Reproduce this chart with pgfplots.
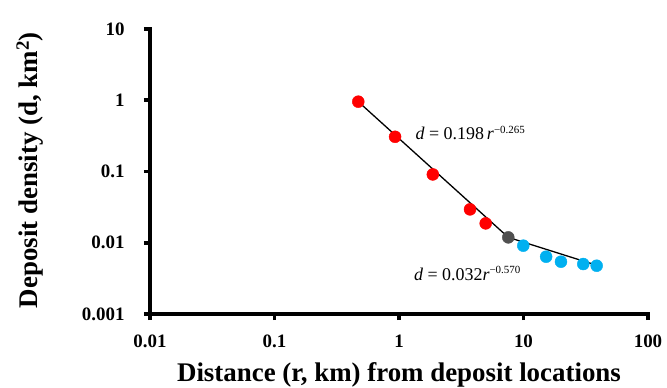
\documentclass[border=0pt]{standalone}
\usepackage{pgfplots}
\pgfplotsset{compat=1.18}
\usepackage{fontspec}
\setmainfont{Liberation Serif}
\definecolor{myred}{RGB}{255,0,0}
\definecolor{myblue}{RGB}{0,176,240}
\definecolor{mygray}{RGB}{80,80,80}
\begin{document}
\begin{tikzpicture}
\useasboundingbox (-150bp,-74bp) rectangle (517bp,314bp);
\begin{axis}[
  scale only axis, width=498bp, height=285bp,
  xmode=log, ymode=log,
  xmin=0.01, xmax=100, ymin=0.001, ymax=10,
  axis x line*=bottom, axis y line*=left,
  axis line style={draw=none},
  tick style={draw=none},
  xminorticks=false, yminorticks=false,
  xtick={0.01,0.1,1,10,100}, xticklabels={0.01,0.1,1,10,100},
  ytick={0.001,0.01,0.1,1,10}, yticklabels={0.001,0.01,0.1,1,10},
  ticklabel style={font=\bfseries\fontsize{19}{21}\selectfont},
  xticklabel style={yshift=-17bp},
  yticklabel style={xshift=-22bp},
  /pgf/number format/assume math mode=true,
  xlabel={Distance (r, km) from deposit locations},
  ylabel={Deposit density (d, km\textsuperscript{2})},
  label style={font=\bfseries\fontsize{27}{30}\selectfont},
  xlabel style={at={(axis description cs:0.5,-0.214)}, anchor=center},
  ylabel style={at={(axis description cs:-0.241,0.505)}, anchor=center, rotate=0},
  clip=false,
]
% axis frame (left and bottom) with outward ticks
\draw[line width=4bp, line cap=rect] (rel axis cs:0,1) -- (rel axis cs:0,0) -- (rel axis cs:1,0);
\draw[line width=3.5bp] ([yshift=-6bp]axis cs:0.01,0.001) -- (axis cs:0.01,0.001);
\draw[line width=3.5bp] ([yshift=-6bp]axis cs:0.1,0.001) -- (axis cs:0.1,0.001);
\draw[line width=3.5bp] ([yshift=-6bp]axis cs:1,0.001) -- (axis cs:1,0.001);
\draw[line width=3.5bp] ([yshift=-6bp]axis cs:10,0.001) -- (axis cs:10,0.001);
\draw[line width=3.5bp] ([yshift=-6bp]axis cs:100,0.001) -- (axis cs:100,0.001);
\draw[line width=3.5bp] ([xshift=-6bp]axis cs:0.01,0.001) -- (axis cs:0.01,0.001);
\draw[line width=3.5bp] ([xshift=-6bp]axis cs:0.01,0.01) -- (axis cs:0.01,0.01);
\draw[line width=3.5bp] ([xshift=-6bp]axis cs:0.01,0.1) -- (axis cs:0.01,0.1);
\draw[line width=3.5bp] ([xshift=-6bp]axis cs:0.01,1) -- (axis cs:0.01,1);
\draw[line width=3.5bp] ([xshift=-6bp]axis cs:0.01,10) -- (axis cs:0.01,10);
\addplot[black, line width=1.3bp, no marks] coordinates {(0.471,0.955) (7.55,0.0119) (38.7,0.00483)};
\addplot[only marks, mark=*, mark size=6bp, color=myred, line width=0.4bp] coordinates {
(0.471,0.955) (0.93,0.307) (1.87,0.091) (3.72,0.0294) (4.97,0.0187)};
\addplot[only marks, mark=*, mark size=6bp, color=mygray, line width=0.4bp] coordinates {(7.55,0.0119)};
\addplot[only marks, mark=*, mark size=6bp, color=myblue, line width=0.4bp] coordinates {
(9.96,0.0091) (15.2,0.00637) (20.0,0.00542) (30.2,0.00503) (38.7,0.00476)};
\node[font=\fontsize{18}{20}\selectfont] at (axis cs:3.75,0.344) {\textit{d} = 0.198\,\textit{r}\textsuperscript{\fontsize{11}{12}\selectfont −0.265}};
\node[font=\fontsize{18}{20}\selectfont] at (axis cs:3.55,0.0037) {\textit{d} = 0.032\textit{r}\textsuperscript{\fontsize{11}{12}\selectfont −0.570}};
\end{axis}
\end{tikzpicture}
\end{document}
